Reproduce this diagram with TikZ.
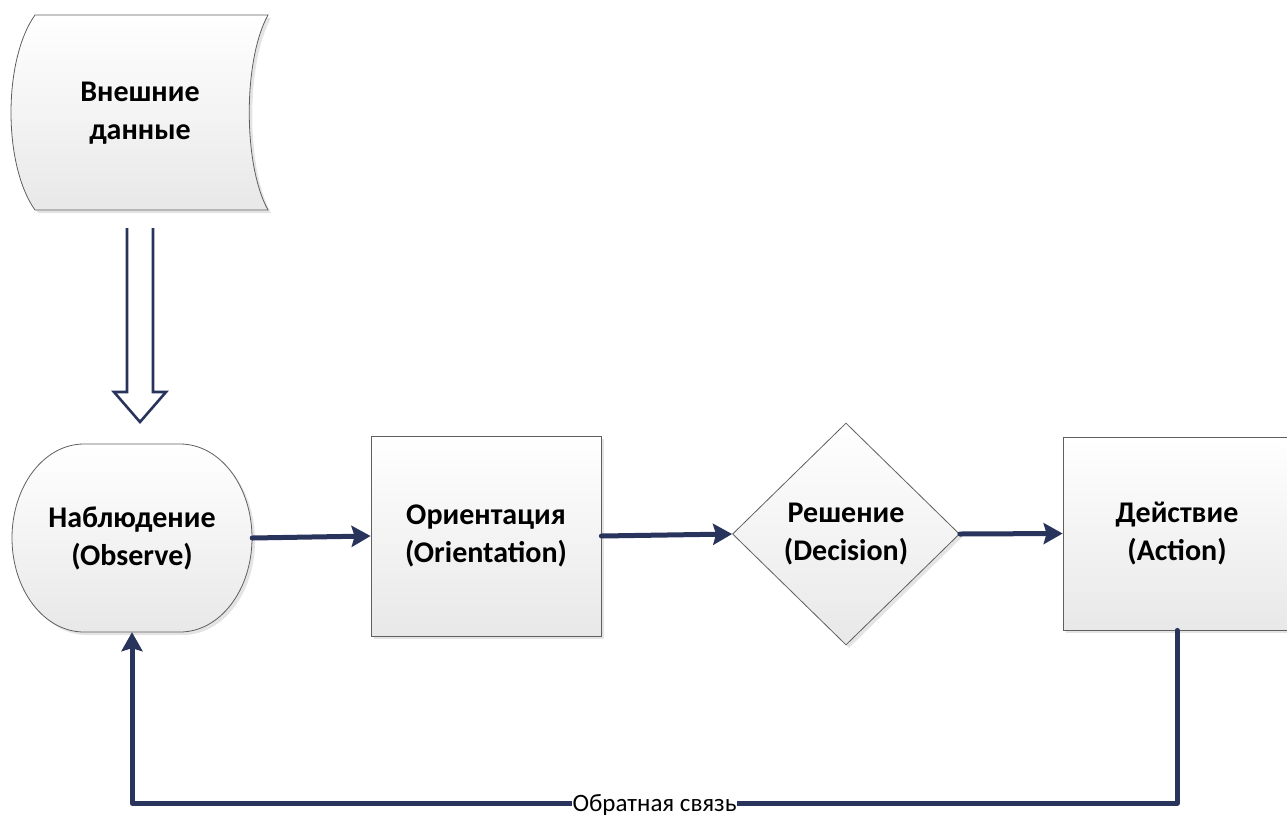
\documentclass[tikz,border=0pt]{standalone}
\usepackage{fontspec}
\setmainfont{Carlito}
\usetikzlibrary{shapes.geometric,arrows.meta,shadows,calc}
\definecolor{navy}{RGB}{40,52,92}
\definecolor{edgegray}{RGB}{95,95,95}
\begin{document}
\begin{tikzpicture}[x=1pt,y=-1pt,
  shapefill/.style={draw=edgegray, line width=0.8pt, top color=white, bottom color=black!9,
    drop shadow={shadow xshift=3pt,shadow yshift=-3pt,opacity=0.3,fill=black!35}},
  bigtext/.style={font=\fontsize{30}{38}\selectfont\bfseries, align=center, inner sep=0pt},
  box/.style={shapefill, bigtext},
  flow/.style={draw=navy, line width=5pt, line cap=round, line join=round,
    -{Stealth[length=19pt,width=21pt,inset=3pt]}},
  hollow/.style={draw=navy, line width=2.6pt, line join=miter, fill=white},
  fblabel/.style={fill=white, inner sep=1pt, font=\fontsize{25}{30}\selectfont}
]
\useasboundingbox (0,0) rectangle (1287,817);

% external data (stored data shape)
\path[shapefill] (35,15) -- (268,15) .. controls (243,60) and (243,165) .. (268,210)
  -- (35,210) .. controls (3,165) and (3,60) .. (35,15) -- cycle;
\node[bigtext] (ext) at (140,113) {Внешние\\данные};

% hollow double arrow
\path[hollow] (127,228) -- (127,392) -- (114,392) -- (140,422) -- (166,392) -- (153,392) -- (153,228);

% observe shape
\path[shapefill] (84,444) -- (180,444)
  .. controls (220,444) and (252,486) .. (252,538)
  .. controls (252,590) and (220,632) .. (180,632)
  -- (84,632)
  .. controls (44,632) and (12,590) .. (12,538)
  .. controls (12,486) and (44,444) .. (84,444) -- cycle;
\node[bigtext, minimum width=240pt, minimum height=188pt] (obs) at (132,538) {Наблюдение\\(Observe)};

\node[box, minimum width=230pt, minimum height=200pt] (ori) at (486,536) {Ориентация\\(Orientation)};
\node[box, diamond, minimum width=227pt, minimum height=222pt] (dec) at (846,534) {Решение\\(Decision)};
\node[box, minimum width=228pt, minimum height=193pt] (act) at (1177,533.5) {Действие\\(Action)};

\draw[flow] (obs.east) -- (ori.west);
\draw[flow] (ori.east) -- (dec.west);
\draw[flow] (dec.east) -- (act.west);
\coordinate (fbr) at (act.south |- 0,803);
\coordinate (fbl) at (obs.south |- 0,803);
\draw[flow] (act.south) -- (fbr) -- node[fblabel, anchor=base, yshift=-8.5pt] {Обратная связь} (fbl) -- (obs.south);
\end{tikzpicture}
\end{document}
